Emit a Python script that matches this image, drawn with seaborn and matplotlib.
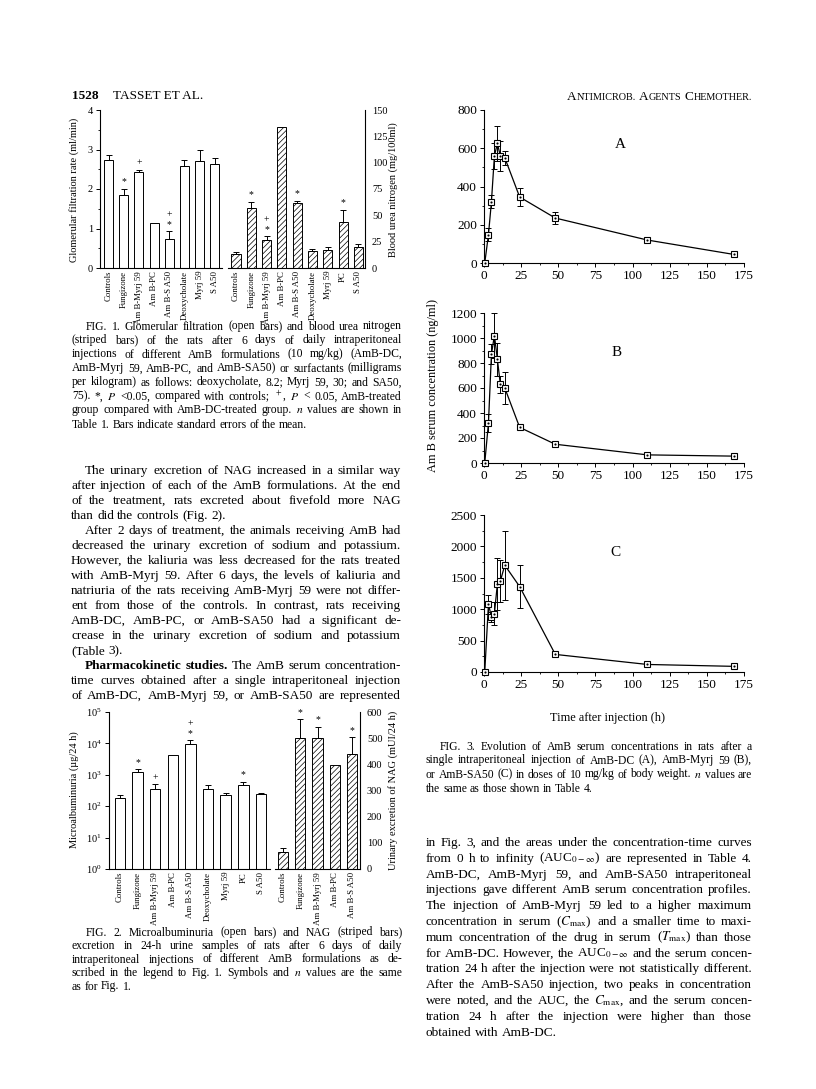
import numpy as np
import matplotlib
matplotlib.use("Agg")
import matplotlib.pyplot as plt
from matplotlib.ticker import MultipleLocator, NullLocator, LogLocator, LogFormatterMathtext
import seaborn as sns

sns.set_theme(style="ticks", context="paper")
plt.rcParams['font.family'] = ['Liberation Serif', 'DejaVu Serif']
plt.rcParams['mathtext.fontset'] = 'stix'
plt.rcParams['hatch.linewidth'] = 0.5
plt.rcParams['axes.linewidth'] = 0.8
for k in ['axes.edgecolor', 'xtick.color', 'ytick.color', 'text.color', 'axes.labelcolor']:
    plt.rcParams[k] = 'black'

# ---- Fig. 1 data: GFR (open bars) and BUN (striped bars)
gfr_labels = ["Controls", "Fungizone", "Am B-Myrj 59", "Am B-PC", "Am B-S A50",
              "Deoxycholate", "Myrj 59", "S A50"]
gfr = [2.74, 1.86, 2.42, 1.13, 0.73, 2.58, 2.70, 2.63]
gfr_err = [0.12, 0.15, 0.07, 0, 0.20, 0.15, 0.30, 0.15]
gfr_marks = ["", "*", "+", "", "*+", "", "", ""]

bun_labels = ["Controls", "Fungizone", "Am B-Myrj 59", "Am B-PC", "Am B-S A50",
              "Deoxycholate", "Myrj 59", "PC", "S A50"]
bun = [13.5, 57, 27, 134, 62, 16.5, 17.5, 44, 20]
bun_err = [1.5, 6, 3, 0, 2, 2, 2.5, 11.5, 3]
bun_marks = ["", "*", "*+", "", "*", "", "", "*", ""]

# ---- Fig. 2 data: microalbuminuria (open, log) and NAG (striped)
alb_labels = ["Controls", "Fungizone", "Am B-Myrj 59", "Am B-PC", "Am B-S A50",
              "Deoxycholate", "Myrj 59", "PC", "S A50"]
alb = [185, 1250, 360, 4400, 9700, 350, 230, 460, 240]
alb_err = [35, 250, 140, 0, 2800, 120, 35, 140, 15]
alb_marks = ["", "*", "+", "", "*+", "", "", "*", ""]

nag_labels = ["Controls", "Fungizone", "Am B-Myrj 59", "Am B-PC", "Am B-S A50"]
nag = [65, 500, 500, 398, 438]
nag_err = [15, 73, 43, 0, 65]
nag_marks = ["", "*", "*", "", "*"]

# ---- Fig. 3 data: serum concentration (ng/ml) vs time (h)
times = [0.5, 3, 5, 7, 9, 11, 14, 24, 48, 110, 168]
conc_a = [0, 148, 320, 560, 625, 560, 550, 345, 235, 120, 45]
err_a = [0, 35, 35, 70, 90, 80, 35, 45, 30, 10, 8]
conc_b = [0, 320, 870, 1020, 830, 630, 600, 285, 150, 65, 55]
err_b = [0, 70, 80, 180, 130, 70, 125, 8, 8, 8, 5]
conc_c = [0, 1080, 880, 930, 1400, 1450, 1700, 1360, 280, 120, 90]
err_c = [0, 150, 80, 180, 420, 340, 550, 340, 15, 10, 10]

W, H = 816, 1089
fig = plt.figure(figsize=(W / 100, H / 100), dpi=100)
renderer = fig.canvas.get_renderer()


def px_axes(x0, y0, x1, y1):
    return fig.add_axes([x0 / W, 1 - y1 / H, (x1 - x0) / W, (y1 - y0) / H])


def bars(ax, labels, vals, errs, marks, hatch=None):
    sns.barplot(x=labels, y=vals, ax=ax, color='white', edgecolor='black',
                linewidth=0.7, width=0.6, saturation=1, errorbar=None)
    if hatch:
        for p in ax.patches:
            p.set_hatch(hatch)
    idx = [i for i, e in enumerate(errs) if e > 0]
    ax.errorbar(idx, [vals[i] for i in idx],
                yerr=[[0] * len(idx), [errs[i] for i in idx]],
                fmt='none', ecolor='black', elinewidth=0.7, capsize=2, capthick=0.7)
    for i, m in enumerate(marks):
        for k, ch in enumerate(m):
            ax.annotate(ch, (i, vals[i] + errs[i]), xytext=(0, 5 + 7 * k),
                        textcoords='offset points', ha='center', va='center', fontsize=7)
    ax.tick_params(axis='x', length=0, labelrotation=90, labelsize=6.3, pad=2)
    ax.tick_params(axis='y', labelsize=7.5, length=3, width=0.7, direction='out', pad=2)
    ax.tick_params(axis='y', which='minor', length=1.5, width=0.6)
    ax.set_xlabel('')


# ---------- Fig. 1
ax1 = px_axes(100, 110, 222, 268)
bars(ax1, gfr_labels, gfr, gfr_err, gfr_marks)
ax1.set_xlim(-0.56, 7.47)
ax1.set_ylim(0, 4)
ax1.yaxis.set_major_locator(MultipleLocator(1))
ax1.yaxis.set_minor_locator(MultipleLocator(0.5))
sns.despine(ax=ax1)

ax2 = px_axes(228, 110, 365, 268)
bars(ax2, bun_labels, bun, bun_err, bun_marks, hatch='//////')
ax2.set_xlim(-0.52, 8.43)
ax2.set_ylim(0, 150)
ax2.yaxis.set_major_locator(MultipleLocator(25))
ax2.yaxis.set_minor_locator(MultipleLocator(12.5))
ax2.yaxis.tick_right()
sns.despine(ax=ax2, left=True, right=False)

fig.text(74 / W, 1 - 190 / H, "Glomerular filtration rate (ml/min)", rotation=90,
         ha='center', va='center', fontsize=7.5)
fig.text(393 / W, 1 - 190 / H, "Blood urea nitrogen (mg/100ml)", rotation=90,
         ha='center', va='center', fontsize=7.5)

# ---------- Fig. 2
ax3 = px_axes(109, 712, 270, 869)
ax3.set_yscale('log')
bars(ax3, alb_labels, alb, alb_err, alb_marks)
ax3.set_xlim(-0.625, 8.52)
ax3.set_ylim(1, 1e5)
ax3.yaxis.set_major_locator(LogLocator(base=10, numticks=10))
ax3.yaxis.set_major_formatter(LogFormatterMathtext())
ax3.yaxis.set_minor_locator(NullLocator())
sns.despine(ax=ax3)

ax4 = px_axes(275, 712, 360, 869)
bars(ax4, nag_labels, nag, nag_err, nag_marks, hatch='//////')
ax4.set_xlim(-0.46, 4.45)
ax4.set_ylim(0, 600)
ax4.yaxis.set_major_locator(MultipleLocator(100))
ax4.yaxis.set_minor_locator(MultipleLocator(50))
ax4.yaxis.tick_right()
sns.despine(ax=ax4, left=True, right=False)

fig.text(74 / W, 1 - 790 / H, "Microalbuminuria (µg/24 h)", rotation=90,
         ha='center', va='center', fontsize=7.5)
fig.text(393 / W, 1 - 790 / H, "Urinary excretion of NAG (mUI/24 h)", rotation=90,
         ha='center', va='center', fontsize=7.5)

# ---------- Fig. 3
panels = [
    (px_axes(484, 110, 744, 263), conc_a, err_a, 800, 200, 100, "A", (620, 145)),
    (px_axes(484, 313, 744, 463), conc_b, err_b, 1200, 200, 100, "B", (617, 352)),
    (px_axes(484, 515, 744, 672), conc_c, err_c, 2500, 500, 250, "C", (615, 552)),
]
for ax, conc, err, top, major, minor, letter, pos in panels:
    ax.errorbar(times, conc, yerr=err, fmt='none', ecolor='black', elinewidth=0.7,
                capsize=2, capthick=0.7, zorder=1, clip_on=False)
    sns.lineplot(x=times, y=conc, ax=ax, color='black', linewidth=0.9, marker='s',
                 markersize=5, markerfacecolor='white', markeredgecolor='black',
                 markeredgewidth=0.8, clip_on=False, zorder=3)
    ax.scatter(times, conc, s=0.6, color='black', zorder=4, clip_on=False)
    ax.set_xlim(0, 175)
    ax.set_ylim(0, top)
    ax.xaxis.set_major_locator(MultipleLocator(25))
    ax.xaxis.set_minor_locator(MultipleLocator(12.5))
    ax.yaxis.set_major_locator(MultipleLocator(major))
    ax.yaxis.set_minor_locator(MultipleLocator(minor))
    ax.tick_params(which='major', labelsize=9.5, length=3, width=0.7, direction='out', pad=2)
    ax.tick_params(which='minor', length=1.5, width=0.6, direction='out')
    ax.set_xlabel('')
    ax.set_ylabel('')
    sns.despine(ax=ax)
    fig.text(pos[0] / W, 1 - pos[1] / H, letter, fontsize=11, ha='center', va='center')

fig.text(433 / W, 1 - 385 / H, "Am B serum concentration (ng/ml)", rotation=90,
         ha='center', va='center', fontsize=8.8)
fig.text(607 / W, 1 - 718 / H, "Time after injection (h)", ha='center', va='center',
         fontsize=8.8)


# ---------- running text
def put_line(line, x0, x1, yc, size, justify=True):
    items = []
    for tok in line.split(' '):
        weight = 'normal'
        if tok.startswith('**'):
            tok, weight = tok[2:], 'bold'
        t = fig.text(0, 0, tok, fontsize=size, fontweight=weight, ha='left', va='baseline')
        items.append((t, t.get_window_extent(renderer).width))
    total = sum(w for _, w in items)
    gap = size * 0.25 * 100 / 72
    if justify and len(items) > 1:
        gap = max((x1 - x0 - total) / (len(items) - 1), 2.0)
    yb = yc + 0.3 * size * 100 / 72
    x = x0
    for t, w in items:
        t.set_position((x / W, 1 - yb / H))
        x += w + gap


def paragraph(lines, x0, x1, y0, dy, size, indent=14, last_justify=False):
    for k, line in enumerate(lines):
        xs = x0 + (indent if k == 0 else 0)
        put_line(line, xs, x1, y0 + k * dy, size,
                 justify=(k < len(lines) - 1 or last_justify))


def small_caps_right(text, x_right, yc, big, small):
    items = []
    for word in text.split(' '):
        parts = [(word[0], big)] + ([(word[1:], small)] if len(word) > 1 else [])
        for s, fs in parts:
            t = fig.text(0, 0, s, fontsize=fs, ha='left', va='baseline')
            items.append((t, t.get_window_extent(renderer).width, False))
        items[-1] = (items[-1][0], items[-1][1], True)
    gap = big * 0.25 * 100 / 72
    total = sum(w for _, w, _ in items) + gap * (text.count(' '))
    x = x_right - total
    yb = yc + 0.3 * big * 100 / 72
    for t, w, end in items:
        t.set_position((x / W, 1 - yb / H))
        x += w + (gap if end else 0)


fig.text(72 / W, 1 - 99 / H, "1528", fontsize=9.5, fontweight='bold', va='baseline')
fig.text(113 / W, 1 - 99 / H, "TASSET ET AL.", fontsize=9.5, va='baseline')
small_caps_right("ANTIMICROB. AGENTS CHEMOTHER.", 752, 96, 9.5, 7.3)

cap_size = 8.4
cap1 = [
    "FIG. 1. Glomerular filtration (open bars) and blood urea nitrogen",
    "(striped bars) of the rats after 6 days of daily intraperitoneal",
    "injections of different AmB formulations (10 mg/kg) (AmB-DC,",
    "AmB-Myrj 59, AmB-PC, and AmB-SA50) or surfactants (milligrams",
    "per kilogram) as follows: deoxycholate, 8.2; Myrj 59, 30; and SA50,",
    r"75). *, $P$ <0.05, compared with controls; $^+$, $P$ < 0.05, AmB-treated",
    r"group compared with AmB-DC-treated group. $n$ values are shown in",
    "Table 1. Bars indicate standard errors of the mean.",
]
paragraph(cap1, 72, 402, 326, 14, cap_size)

cap2 = [
    "FIG. 2. Microalbuminuria (open bars) and NAG (striped bars)",
    "excretion in 24-h urine samples of rats after 6 days of daily",
    "intraperitoneal injections of different AmB formulations as de-",
    r"scribed in the legend to Fig. 1. Symbols and $n$ values are the same",
    "as for Fig. 1.",
]
paragraph(cap2, 72, 402, 932, 13.5, cap_size)

cap3 = [
    "FIG. 3. Evolution of AmB serum concentrations in rats after a",
    "single intraperitoneal injection of AmB-DC (A), AmB-Myrj 59 (B),",
    r"or AmB-SA50 (C) in doses of 10 mg/kg of body weight. $n$ values are",
    "the same as those shown in Table 4.",
]
paragraph(cap3, 426, 752, 746, 14, cap_size)

body_size = 9.5
body_dy = 15.0
body_p1 = [
    "The urinary excretion of NAG increased in a similar way",
    "after injection of each of the AmB formulations. At the end",
    "of the treatment, rats excreted about fivefold more NAG",
    "than did the controls (Fig. 2).",
]
body_p2 = [
    "After 2 days of treatment, the animals receiving AmB had",
    "decreased the urinary excretion of sodium and potassium.",
    "However, the kaliuria was less decreased for the rats treated",
    "with AmB-Myrj 59. After 6 days, the levels of kaliuria and",
    "natriuria of the rats receiving AmB-Myrj 59 were not differ-",
    "ent from those of the controls. In contrast, rats receiving",
    "AmB-DC, AmB-PC, or AmB-SA50 had a significant de-",
    "crease in the urinary excretion of sodium and potassium",
    "(Table 3).",
]
body_p3 = [
    "**Pharmacokinetic **studies. The AmB serum concentration-",
    "time curves obtained after a single intraperitoneal injection",
    "of AmB-DC, AmB-Myrj 59, or AmB-SA50 are represented",
]
y0 = 470
paragraph(body_p1, 71, 401, y0, body_dy, body_size)
paragraph(body_p2, 71, 401, y0 + 4 * body_dy, body_dy, body_size)
paragraph(body_p3, 71, 401, y0 + 13 * body_dy, body_dy, body_size, last_justify=True)

body_right = [
    "in Fig. 3, and the areas under the concentration-time curves",
    r"from 0 h to infinity (AUC$_{0-\infty}$) are represented in Table 4.",
    "AmB-DC, AmB-Myrj 59, and AmB-SA50 intraperitoneal",
    "injections gave different AmB serum concentration profiles.",
    "The injection of AmB-Myrj 59 led to a higher maximum",
    r"concentration in serum ($C_{\mathrm{max}}$) and a smaller time to maxi-",
    r"mum concentration of the drug in serum ($T_{\mathrm{max}}$) than those",
    r"for AmB-DC. However, the AUC$_{0-\infty}$ and the serum concen-",
    "tration 24 h after the injection were not statistically different.",
    "After the AmB-SA50 injection, two peaks in concentration",
    r"were noted, and the AUC, the $C_{\mathrm{max}}$, and the serum concen-",
    "tration 24 h after the injection were higher than those",
    "obtained with AmB-DC.",
]
paragraph(body_right, 426, 752, 842, 15.8, body_size, indent=0)

fig.savefig("out.png", dpi=100)
